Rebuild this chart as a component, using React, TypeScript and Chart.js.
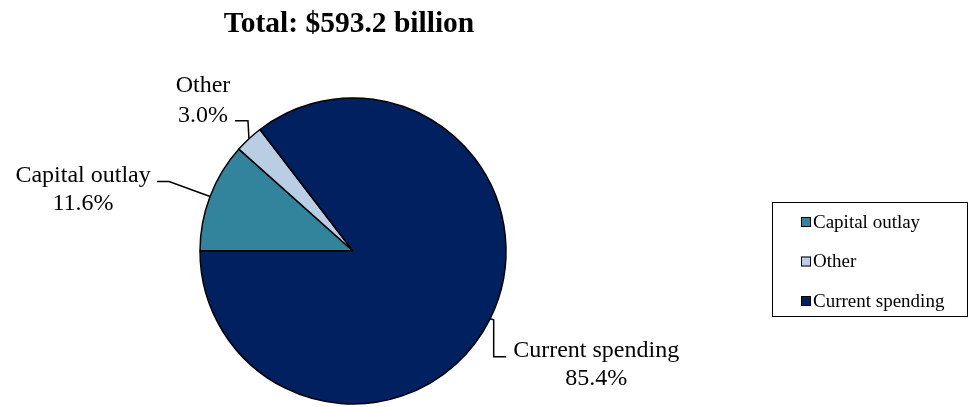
import React, { useEffect, useRef } from "react";
import { Chart, registerables } from "chart.js";

Chart.register(...registerables);

const categories = ["Capital outlay", "Other", "Current spending"];
const shares = [11.6, 3.0, 85.4];
const percentLabels = ["11.6%", "3.0%", "85.4%"];
const colors = ["#31849B", "#B9CDE5", "#002060"];
const titleText = "Total: $593.2 billion";

const SERIF = "'Liberation Serif', 'Times New Roman', serif";

// Per-slice label placement (style offsets relative to the slice's outer midpoint)
const labelStyles = [
  { leader: [[-41, -15], [-53, -15]], textX: -127, baselines: [-14, 14] },
  { leader: [[-1, -18], [-14, -18]], textX: -46, baselines: [-47, -17] },
  { leader: [[3.5, 1], [3.5, 38], [16, 38]], textX: 106, baselines: [38, 66] },
];

const labelPlugin = {
  id: "sliceLabels",
  afterDatasetsDraw(chart: any) {
    const ctx = chart.ctx;
    const meta = chart.getDatasetMeta(0);
    ctx.save();
    meta.data.forEach((arc: any, i: number) => {
      const mid = (arc.startAngle + arc.endAngle) / 2;
      const ex = arc.x + Math.cos(mid) * arc.outerRadius;
      const ey = arc.y + Math.sin(mid) * arc.outerRadius;
      const st = labelStyles[i];
      ctx.strokeStyle = "#000";
      ctx.lineWidth = 1.5;
      ctx.beginPath();
      ctx.moveTo(ex, ey);
      st.leader.forEach((p) => ctx.lineTo(ex + p[0], ey + p[1]));
      ctx.stroke();
      ctx.fillStyle = "#000";
      ctx.font = `24px ${SERIF}`;
      ctx.textAlign = "center";
      ctx.textBaseline = "alphabetic";
      ctx.fillText(categories[i], ex + st.textX, ey + st.baselines[0]);
      ctx.fillText(percentLabels[i], ex + st.textX, ey + st.baselines[1]);
    });
    ctx.restore();
  },
};

const titleLegendPlugin = {
  id: "titleLegend",
  afterDraw(chart: any) {
    const ctx = chart.ctx;
    ctx.save();
    ctx.fillStyle = "#000";
    ctx.font = `bold 29.5px ${SERIF}`;
    ctx.textAlign = "center";
    ctx.textBaseline = "alphabetic";
    ctx.fillText(titleText, 349, 32);

    // legend box
    const bx = 772.5, by = 202.5, bw = 195, bh = 114;
    ctx.strokeStyle = "#000";
    ctx.lineWidth = 1;
    ctx.strokeRect(bx, by, bw, bh);
    ctx.font = `19px ${SERIF}`;
    ctx.textAlign = "left";
    ctx.textBaseline = "middle";
    categories.forEach((c, i) => {
      const cy = 222 + i * 39.5;
      ctx.fillStyle = colors[i];
      ctx.fillRect(801, cy - 5, 10, 10);
      ctx.strokeStyle = "#000";
      ctx.lineWidth = 1;
      ctx.strokeRect(801.5, cy - 4.5, 9, 9);
      ctx.fillStyle = "#000";
      ctx.fillText(c, 813, cy + 1);
    });
    ctx.restore();
  },
};

export default function App() {
  const ref = useRef<HTMLCanvasElement>(null);
  useEffect(() => {
    document.body.style.margin = "0";
    const chart = new Chart(ref.current!, {
      type: "pie",
      data: {
        labels: categories,
        datasets: [
          {
            data: shares,
            backgroundColor: colors,
            borderColor: "#000",
            borderWidth: 1.5,
          },
        ],
      },
      options: {
        animation: false,
        responsive: false,
        rotation: 270,
        radius: 153,
        layout: { padding: { left: 0, right: 263, top: 95, bottom: 0 } },
        plugins: {
          legend: { display: false },
          title: { display: false },
          tooltip: { enabled: false },
        },
      },
      plugins: [labelPlugin, titleLegendPlugin],
    });
    return () => chart.destroy();
  }, []);
  return (
    <div style={{ position: "fixed", left: 0, top: 0, width: 969, height: 407, background: "#fff" }}>
      <canvas ref={ref} width={969} height={407} style={{ width: 969, height: 407 }} />
    </div>
  );
}
